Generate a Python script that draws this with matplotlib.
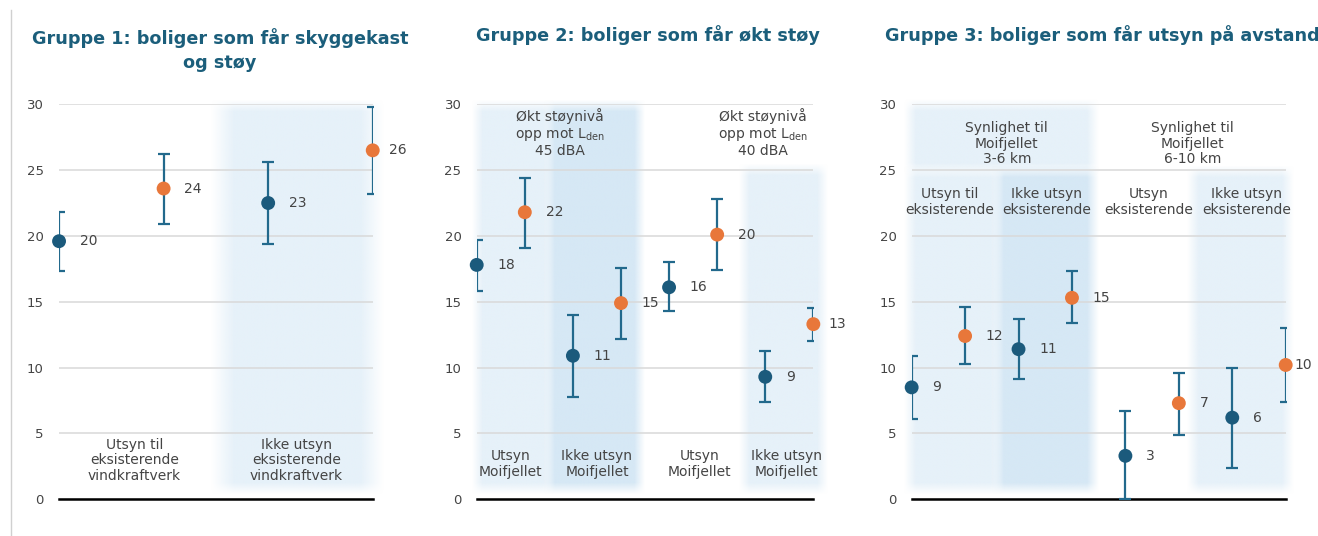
import numpy as np
import matplotlib
matplotlib.use("Agg")
import matplotlib.pyplot as plt
from matplotlib.colors import to_rgb

# Gruppe 1
g1_values = [19.6, 23.6, 22.5, 26.5]
g1_low = [17.3, 20.9, 19.4, 23.2]
g1_high = [21.8, 26.2, 25.6, 29.8]
g1_labels = ["20", "24", "23", "26"]
g1_cats = ["Utsyn til\neksisterende\nvindkraftverk", "Ikke utsyn\neksisterende\nvindkraftverk"]

# Gruppe 2
g2_values = [17.8, 21.8, 10.9, 14.9, 16.1, 20.1, 9.3, 13.3]
g2_low = [15.8, 19.1, 7.8, 12.2, 14.3, 17.45, 7.4, 12.0]
g2_high = [19.7, 24.4, 14.0, 17.6, 18.05, 22.8, 11.25, 14.5]
g2_labels = ["18", "22", "11", "15", "16", "20", "9", "13"]
g2_cats = ["Utsyn\nMoifjellet", "Ikke utsyn\nMoifjellet", "Utsyn\nMoifjellet", "Ikke utsyn\nMoifjellet"]
g2_groups = ["Økt støynivå\nopp mot L$_{\\mathregular{den}}$\n45 dBA",
             "Økt støynivå\nopp mot L$_{\\mathregular{den}}$\n40 dBA"]

# Gruppe 3
g3_values = [8.5, 12.4, 11.4, 15.3, 3.3, 7.3, 6.2, 10.2]
g3_low = [6.1, 10.3, 9.1, 13.4, 0.0, 4.9, 2.4, 7.4]
g3_high = [10.9, 14.6, 13.7, 17.3, 6.7, 9.6, 9.95, 13.0]
g3_labels = ["9", "12", "11", "15", "3", "7", "6", "10"]
g3_cats = ["Utsyn til\neksisterende", "Ikke utsyn\neksisterende", "Utsyn\neksisterende", "Ikke utsyn\neksisterende"]
g3_groups = ["Synlighet til\nMoifjellet\n3-6 km", "Synlighet til\nMoifjellet\n6-10 km"]

titles = ["Gruppe 1: boliger som får skyggekast\nog støy",
          "Gruppe 2: boliger som får økt støy",
          "Gruppe 3: boliger som får utsyn på avstand"]

BLUE = "#1b5a7c"
ORANGE = "#e8773a"
ERR = "#22698c"
TITLE = "#1b5e7b"
TXT = "#444444"
SHADE_L = "#e6f1f9"
SHADE_D = "#d6e8f5"

plt.rcParams['font.family'] = ['DejaVu Sans']
plt.rcParams['mathtext.fontset'] = 'dejavusans'


def soft_span(ax, x0, x1, y0, y1, color, ex=0.22, ey=0.9):
    xs = np.linspace(x0, x1, 300)
    ys = np.linspace(y0, y1, 300)
    fx = np.clip(np.minimum(xs - x0, x1 - xs) / ex, 0, 1)
    fy = np.clip(np.minimum(ys - y0, y1 - ys) / ey, 0, 1)
    img = np.zeros((len(ys), len(xs), 4))
    img[..., :3] = to_rgb(color)
    img[..., 3] = np.outer(fy, fx)
    ax.imshow(img, extent=(x0, x1, y0, y1), origin='lower', aspect='auto',
              zorder=0, clip_on=False, interpolation='bilinear')


def panel(ax, values, low, high, labels, xmax, last_off):
    x = np.arange(len(values))
    v = np.array(values)
    err = [v - np.array(low), np.array(high) - v]
    colors = [BLUE if i % 2 == 0 else ORANGE for i in range(len(values))]
    ax.errorbar(x, v, yerr=err, fmt='none', ecolor=ERR, elinewidth=1.6,
                capsize=4.5, capthick=1.6, zorder=3)
    ax.scatter(x, v, s=100, c=colors, zorder=4, clip_on=False, linewidths=0)
    for i in range(len(values)):
        off = last_off if i == len(values) - 1 else 15
        ax.annotate(labels[i], (x[i], v[i]), xytext=(off, 0), textcoords='offset points',
                    ha='left', va='center', fontsize=10, color=TXT, annotation_clip=False)
    ax.set_xlim(0, xmax)
    ax.set_ylim(0, 30)
    ax.set_yticks(range(0, 31, 5))
    ax.set_xticks([])
    ax.grid(axis='y', color='#d9d9d9', lw=1.1, zorder=1)
    ax.set_axisbelow(True)
    ax.axhline(0, color='black', lw=1.8, zorder=2, clip_on=False)
    for s in ax.spines.values():
        s.set_visible(False)
    ax.tick_params(axis='y', length=0, pad=11, labelsize=9.5, labelcolor=TXT)
    ax.patch.set_alpha(0)


fig = plt.figure(figsize=(13.18, 5.36), dpi=100)
bottom, height = 0.0685, 0.737
ax1 = fig.add_axes([0.0448, bottom, 0.2380, height])
ax2 = fig.add_axes([0.3617, bottom, 0.2554, height])
ax3 = fig.add_axes([0.6917, bottom, 0.2838, height])

# bakgrunnsfelt
soft_span(ax1, 1.45, 3.1, 0.3, 30.3, SHADE_L)

soft_span(ax2, -0.1, 1.6, 0.3, 30.3, SHADE_L)
soft_span(ax2, 1.4, 3.5, 0.3, 30.3, SHADE_D)
soft_span(ax2, 5.45, 7.3, 0.3, 25.5, SHADE_L)

soft_span(ax3, -0.14, 3.5, 24.6, 30.3, SHADE_L)
soft_span(ax3, -0.14, 1.7, 0.3, 25.3, SHADE_L)
soft_span(ax3, 1.5, 3.5, 0.3, 25.3, SHADE_D)
soft_span(ax3, 5.15, 7.15, 0.3, 25.3, SHADE_L)

panel(ax1, g1_values, g1_low, g1_high, g1_labels, 3, 12)
panel(ax2, g2_values, g2_low, g2_high, g2_labels, 7, 11)
panel(ax3, g3_values, g3_low, g3_high, g3_labels, 7, 6)

kw = dict(ha='center', va='center', fontsize=10, color=TXT, linespacing=1.15)
for xc, t in zip([0.72, 2.27], g1_cats):
    ax1.text(xc, 2.95, t, **kw)
for xc, t in zip([0.71, 2.5, 4.63, 6.45], g2_cats):
    ax2.text(xc, 2.7, t, **kw)
for xc, t in zip([1.73, 5.96], g2_groups):
    ax2.text(xc, 27.8, t, **kw)
for xc, t in zip([1.78, 5.25], g3_groups):
    ax3.text(xc, 27.0, t, **kw)
for xc, t in zip([0.72, 2.53, 4.44, 6.27], g3_cats):
    ax3.text(xc, 22.6, t, **kw)

fig.text(220 / 1318, 1 - 50 / 536, titles[0], ha='center', va='center', fontsize=12.7,
         fontweight='bold', color=TITLE, linespacing=1.45)
fig.text(648 / 1318, 1 - 35 / 536, titles[1], ha='center', va='center', fontsize=12.7,
         fontweight='bold', color=TITLE)
fig.text(1102 / 1318, 1 - 35 / 536, titles[2], ha='center', va='center', fontsize=12.7,
         fontweight='bold', color=TITLE)

fig.add_artist(plt.Line2D([11 / 1318, 11 / 1318], [0, 1 - 10 / 536], color='#d0d0d0', lw=1))

fig.savefig("out.png", dpi=100)
